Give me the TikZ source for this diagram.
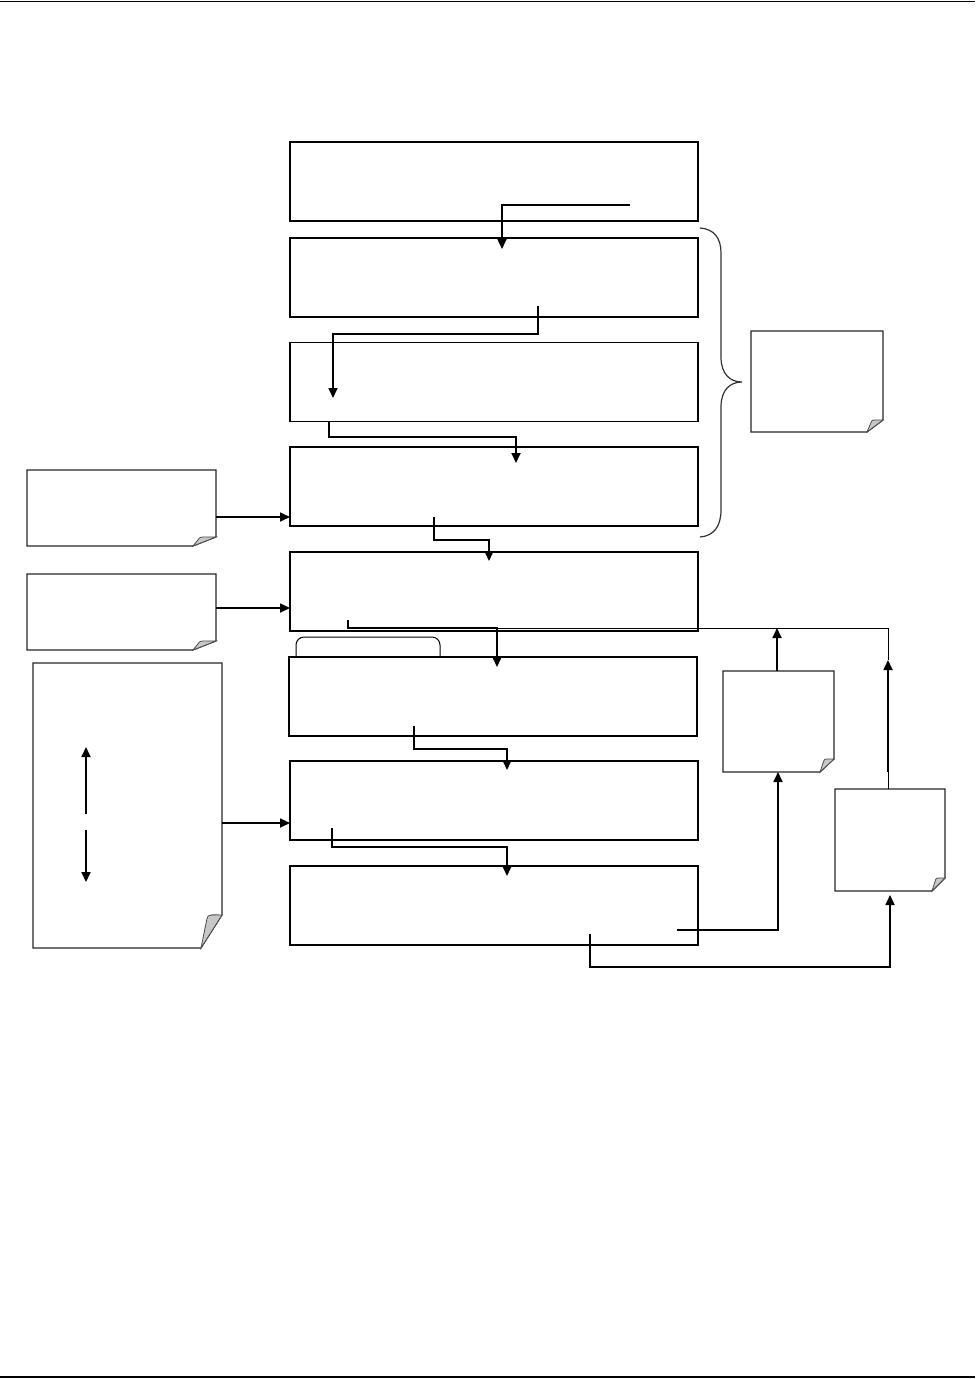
\documentclass[tikz,border=0pt]{standalone}
\usetikzlibrary{arrows.meta,fit}
\tikzset{
  box/.style={draw, line width=1.1pt, inner sep=0pt, outer sep=0pt, minimum width=408pt, minimum height=79pt},
  conn/.style={line width=1.7pt},
  arr/.style={conn, -{Triangle[length=10pt,width=9pt]}},
  thinln/.style={line width=1pt},
  notebd/.style={line width=1.1pt, draw=black!85},
  fold/.style={fill=black!22, draw=black!70, line width=0.8pt},
  bracest/.style={line width=1.2pt, draw=black!80}
}
% name, x1, y1, x2, y2, cut dx, cut dy
\newcommand\mypaper[7]{%
  \path (#2,#3) coordinate (#1-a) (#4,#5) coordinate (#1-b);
  \node[fit=(#1-a)(#1-b), inner sep=0pt, outer sep=0pt] (#1) {};
  \draw[notebd] ([xshift=-#6pt]#1.south east) -- (#1.south west) -- (#1.north west) -- (#1.north east) -- ([yshift=#7pt]#1.south east) -- cycle;
  \draw[fold] ([xshift=-#6pt]#1.south east) -- ([yshift=#7pt]#1.south east)
     .. controls ([xshift=-0.3*#6pt,yshift=#7pt]#1.south east) and ([xshift=-0.75*#6pt,yshift=1.05*#7pt]#1.south east) ..
     ([xshift=-0.72*#6pt,yshift=0.88*#7pt]#1.south east) -- cycle;
}
\begin{document}
\begin{tikzpicture}[x=1pt,y=-1pt]
\useasboundingbox (0,0) rectangle (975,1379);
% page rules
\draw[line width=1.5pt] (0,1.5) -- (975,1.5);
\draw[line width=1.5pt] (0,1377) -- (975,1377);

% main boxes
\node[box] (b1) at (494,181.5) {};
\node[box] (b2) at (494,277.5) {};
\node[box] (b3) at (494,382) {};
\node[box] (b4) at (494,486.5) {};
\node[box] (b5) at (494,591.5) {};
\node[box, line width=2pt] (b6) at (493,696.5) {};
\node[box] (b7) at (494,800.5) {};
\node[box] (b8) at (494,905.5) {};
\draw[line width=2pt] (b2.south west) -- (b2.south east);

% tab above b6
\draw[line width=1pt, rounded corners=8pt] (296,657) -- (296,637) -- (440,637) -- (440,657);

% notes
\mypaper{nbr}{751}{331}{883}{432}{16}{12}
\mypaper{nl1}{27}{470}{216}{546}{23}{9}
\mypaper{nl2}{27}{574}{216}{650}{23}{9}
\mypaper{nl3}{33}{663}{222}{948}{21}{33}
\mypaper{nm}{723}{671}{834}{772}{14}{13}
\mypaper{nr}{835}{789}{945}{891}{13}{13}

% brace
\draw[bracest] (700,228) .. controls (714,229) and (721,238) .. (721,253)
  -- (721,357) .. controls (721,374) and (730,382) .. (742,382)
  .. controls (730,382) and (721,390) .. (721,407)
  -- (721,510) .. controls (721,526) and (714,536) .. (700,537);

% chain connectors
\coordinate (s1) at (630,205);
\draw[arr] (s1) -- (502,205) -- (502,249);
\coordinate (s2) at (538,306);
\draw[arr] (s2) -- (538,334) -- (333,334) -- (333,398);
\coordinate (s3) at (329,421);
\draw[arr] (s3) -- (329,437) -- (516,437) -- (516,463);
\coordinate (s4) at (434,517);
\draw[arr] (s4) -- (434,540) -- (489,540) -- (489,561);
\coordinate (s5) at (348,620);
\draw[arr] (s5) -- (348,628) -- (497,628) -- (497,667);
\coordinate (s6) at (414,726);
\draw[arr] (s6) -- (414,749) -- (507,749) -- (507,770);
\coordinate (s7) at (332,828);
\draw[arr] (s7) -- (332,847) -- (507,847) -- (507,876);

% left inputs
\draw[arr] (nl1.east |- 0,517) -- (b4.west |- 0,517);
\draw[arr] (nl2.east |- 0,608) -- (b5.west |- 0,608);
\draw[arr] (nl3.east |- 0,823) -- (b7.west |- 0,823);

% double arrows inside nl3
\draw[arr] (86,814) -- (86,747);
\draw[arr] (86,830) -- (86,882);

% outputs of b8
\coordinate (s8) at (677,930);
\draw[arr] (s8) -- (778,930) -- (nm.south -| 778,0);
\coordinate (s9) at (590,934);
\draw[arr] (s9) -- (590,967) -- (890,967) -- ([yshift=-4pt]nr.south -| 890,0);

% feedback to b5
\draw[arr] (nm.north -| 777,0) -- (777,628);
\draw[thinln] (888,789) -- (888,772);
\draw[arr] (888,772) -- (888,660);
\draw[thinln] (888,660) -- (888,628) -- (497,628);
\end{tikzpicture}
\end{document}
